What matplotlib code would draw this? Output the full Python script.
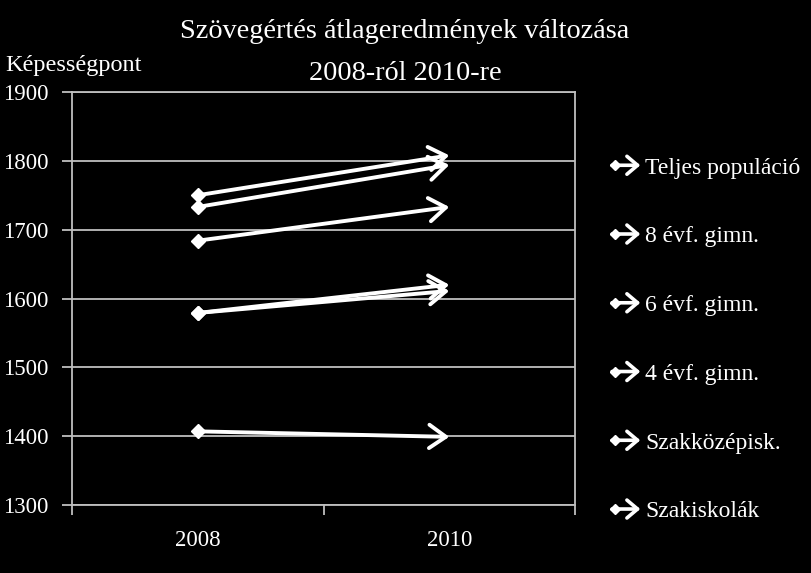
import matplotlib
matplotlib.use("Agg")
import matplotlib.pyplot as plt
from matplotlib.legend_handler import HandlerBase
from matplotlib.patches import FancyArrowPatch
from matplotlib.lines import Line2D

years = ["2008", "2010"]
series = ["Teljes populáció", "8 évf. gimn.", "6 évf. gimn.", "4 évf. gimn.",
          "Szakközépisk.", "Szakiskolák"]
v2008 = [1579, 1750, 1733, 1684, 1579, 1407]
v2010 = [1611, 1808, 1794, 1733, 1620, 1399]
ylabel = "Képességpont"
yticks = [1300, 1400, 1500, 1600, 1700, 1800, 1900]

plt.rcParams['font.family'] = ['Liberation Serif', 'DejaVu Serif']

W, H = 811, 573
fig = plt.figure(figsize=(W / 100, H / 100), dpi=100, facecolor='black')
ax = fig.add_axes([72 / W, (H - 505) / H, (575 - 72) / W, (505 - 92) / H])
ax.set_facecolor('black')

grid_c = '#bfbfbf'
tick_fs = 16.5
ax.set_ylim(1300, 1900)
ax.set_xlim(-0.5, 1.5)
ax.set_yticks(yticks)
ax.yaxis.grid(True, color=grid_c, lw=1.3)
ax.set_axisbelow(True)
ax.set_xticks([0, 1])
ax.set_xticklabels(years)
ax.set_xticks([-0.5, 0.5, 1.5], minor=True)
ax.tick_params(axis='x', which='major', length=0, pad=18, colors='white', labelsize=tick_fs)
ax.tick_params(axis='x', which='minor', length=7, width=1.3, color=grid_c, direction='out')
ax.tick_params(axis='y', length=7, width=1.3, color=grid_c, pad=10, colors='white', labelsize=tick_fs)
for tl in ax.get_yticklabels() + ax.get_xticklabels():
    tl.set_color('white')
for sp in ax.spines.values():
    sp.set_color(grid_c)
    sp.set_linewidth(1.3)

lw = 2.8
astyle = '->, head_length=0.6, head_width=0.42'
for name, a, b in zip(series, v2008, v2010):
    ax.annotate('', xy=(1, b), xytext=(0, a),
                arrowprops=dict(arrowstyle=astyle, lw=lw, color='white',
                                mutation_scale=20, shrinkA=0, shrinkB=0))
    ax.plot([0], [a], marker='D', ms=7, color='white', zorder=5)


class ArrowHandler(HandlerBase):
    def create_artists(self, legend, orig_handle, xdescent, ydescent, width,
                       height, fontsize, trans):
        y = height / 2 - ydescent
        ar = FancyArrowPatch((-xdescent, y), (width - xdescent, y),
                             arrowstyle='->, head_length=0.45, head_width=0.38',
                             mutation_scale=17, lw=2.6, color='white',
                             shrinkA=0, shrinkB=0, transform=trans)
        d = Line2D([-xdescent + 2], [y], marker='D', ms=5.5, color='white',
                   transform=trans)
        return [ar, d]


handles = [Line2D([], []) for _ in series]
leg = fig.legend(handles, series, handler_map={Line2D: ArrowHandler()},
                 loc='upper left', bbox_to_anchor=(612 / W, (H - 157) / H),
                 frameon=False, fontsize=17, labelcolor='white',
                 handlelength=1.2, handletextpad=0.2, labelspacing=2.0,
                 borderpad=0, borderaxespad=0)

fig.text(405 / W, 1 - 31 / H, "Szövegértés átlageredmények változása",
         ha='center', va='center', color='white', fontsize=20.3)
fig.text(405 / W, 1 - 73 / H, "2008-ról 2010-re",
         ha='center', va='center', color='white', fontsize=20.3)
fig.text(5 / W, 1 - 66 / H, ylabel, ha='left', va='center', color='white',
         fontsize=17.5)

fig.savefig('out.png', dpi=100, facecolor='black')
